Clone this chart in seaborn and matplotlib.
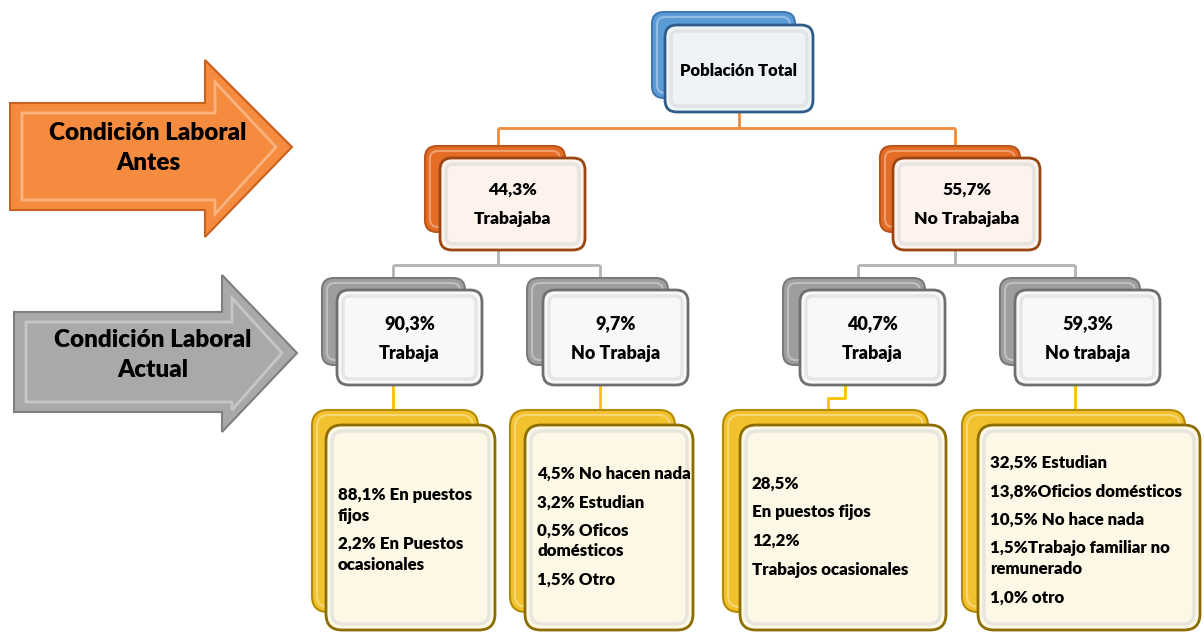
import seaborn as sns
import matplotlib.pyplot as plt
from matplotlib.patches import FancyBboxPatch, Polygon

sns.set_style("white")
plt.rcParams['font.family'] = ['Lato', 'DejaVu Sans']
plt.rcParams['text.color'] = 'black'

# data
root_label = "Población Total"
antes_pct = ["44,3%", "55,7%"]
antes_lab = ["Trabajaba", "No Trabajaba"]
actual_pct = ["90,3%", "9,7%", "40,7%", "59,3%"]
actual_lab = ["Trabaja", "No Trabaja", "Trabaja", "No trabaja"]
detalle = [
    ["88,1% En puestos\nfijos", "2,2% En Puestos\nocasionales"],
    ["4,5% No hacen nada", "3,2% Estudian", "0,5% Oficos\ndomésticos", "1,5% Otro"],
    ["28,5%", "En puestos fijos", "12,2%", "Trabajos ocasionales"],
    ["32,5% Estudian", "13,8%Oficios domésticos", "10,5% No hace nada",
     "1,5%Trabajo familiar no\nremunerado", "1,0% otro"],
]
arrow_labels = ["Condición Laboral\nAntes", "Condición Laboral\nActual"]

fig = plt.figure(figsize=(12.04, 6.32), dpi=100)
ax = fig.add_axes([0, 0, 1, 1])
ax.set_xlim(0, 1204)
ax.set_ylim(632, 0)
ax.axis("off")

W = "heavy"


def card(back, front, back_col, back_edge, front_fill, front_edge, r=12):
    bx, by, bw, bh = back
    ax.add_patch(FancyBboxPatch((bx, by), bw, bh, boxstyle=f"round,pad=0,rounding_size={r}",
                                fc=back_col, ec=back_edge, lw=1.5, zorder=2))
    # light inner bevel on back card
    ax.add_patch(FancyBboxPatch((bx + 5, by + 5), bw - 10, bh - 10,
                                boxstyle=f"round,pad=0,rounding_size={r-4}",
                                fc="none", ec="white", lw=1.5, alpha=0.35, zorder=2))
    fx, fy, fw, fh = front
    ax.add_patch(FancyBboxPatch((fx, fy), fw, fh, boxstyle=f"round,pad=0,rounding_size={r}",
                                fc=front_fill, ec=front_edge, lw=2, zorder=3))
    ax.add_patch(FancyBboxPatch((fx + 6, fy + 6), fw - 12, fh - 12,
                                boxstyle=f"round,pad=0,rounding_size={r-5}",
                                fc="none", ec="#d9d9d9", lw=2.5, alpha=0.6, zorder=3))


def link(points, color):
    xs, ys = zip(*points)
    ax.plot(xs, ys, color=color, lw=2, zorder=1, solid_capstyle="butt")


# connectors
orange_line = "#f08a3c"
gray_line = "#b3b3b3"
gold_line = "#ffc000"
link([(739, 112), (739, 128)], orange_line)
link([(498, 128), (955, 128)], orange_line)
link([(498, 128), (498, 146)], orange_line)
link([(955, 128), (955, 146)], orange_line)
for cx, kids in [(498, (393, 600)), (955, (858, 1075))]:
    link([(cx, 250), (cx, 265)], gray_line)
    link([(kids[0], 265), (kids[1], 265)], gray_line)
    link([(kids[0], 265), (kids[0], 278)], gray_line)
    link([(kids[1], 265), (kids[1], 278)], gray_line)
link([(393, 385), (393, 410)], gold_line)
link([(600, 385), (600, 410)], gold_line)
link([(845, 385), (845, 398), (828, 398), (828, 410)], gold_line)
link([(1075, 385), (1075, 410)], gold_line)

# arrows
def arrow(pts, fc, ec, inner):
    ax.add_patch(Polygon(pts, closed=True, fc=fc, ec=ec, lw=1.5, zorder=2))
    ax.add_patch(Polygon(inner, closed=True, fc="none", ec="white", lw=2, alpha=0.35, zorder=2))

arrow([(10, 103), (205, 103), (205, 60), (292, 147), (205, 237), (205, 210), (10, 210)],
      "#f58b3e", "#c8621e",
      [(22, 113), (215, 113), (215, 82), (276, 147), (215, 214), (215, 200), (22, 200)])
arrow([(14, 312), (222, 312), (222, 275), (297, 353), (222, 432), (222, 412), (14, 412)],
      "#a9a9a9", "#7f7f7f",
      [(26, 322), (232, 322), (232, 298), (282, 353), (232, 410), (232, 402), (26, 402)])
ax.text(148, 148, arrow_labels[0], ha="center", va="center", fontsize=17.5, fontweight=W,
        linespacing=1.45, zorder=4)
ax.text(153, 355, arrow_labels[1], ha="center", va="center", fontsize=17.5, fontweight=W,
        linespacing=1.45, zorder=4)

# root
card((652, 12, 143, 86), (665, 25, 148, 87), "#5b9bd5", "#3f78b0", "#eef3f8", "#2e5c87")
ax.text(739, 71, root_label, ha="center", va="center", fontsize=12, fontweight=W, zorder=4)

# level 1
lvl1 = [((425, 146, 140, 86), (440, 158, 145, 92)), ((880, 146, 140, 86), (893, 158, 147, 92))]
for (b, f), p, l in zip(lvl1, antes_pct, antes_lab):
    card(b, f, "#e46c24", "#b9541a", "#fdf2ec", "#9a4512")
    cx = f[0] + f[2] / 2
    ax.text(cx, 190, p, ha="center", va="center", fontsize=12.5, fontweight=W, zorder=4)
    ax.text(cx, 219, l, ha="center", va="center", fontsize=12.5, fontweight=W, zorder=4)

# level 2
lvl2 = [((322, 278, 143, 87), (337, 290, 145, 95)), ((527, 278, 141, 87), (543, 290, 145, 95)),
        ((783, 278, 142, 87), (800, 290, 145, 95)), ((1000, 278, 140, 87), (1015, 290, 145, 95))]
for (b, f), p, l in zip(lvl2, actual_pct, actual_lab):
    card(b, f, "#9e9e9e", "#7a7a7a", "#f8f8f8", "#6f6f6f")
    cx = f[0] + f[2] / 2
    ax.text(cx, 324, p, ha="center", va="center", fontsize=13, fontweight=W, zorder=4)
    ax.text(cx, 353, l, ha="center", va="center", fontsize=13, fontweight=W, zorder=4)

# level 3
lvl3 = [((312, 410, 166, 202), (326, 425, 169, 205)), ((510, 410, 165, 202), (525, 425, 168, 205)),
        ((723, 410, 205, 202), (740, 425, 206, 205)), ((962, 410, 223, 202), (978, 425, 222, 205))]
start_y = [495, 474, 484, 463]
for (b, f), items, y in zip(lvl3, detalle, start_y):
    card(b, f, "#f2c12e", "#b38a00", "#fdf8e6", "#8c6d00", r=16)
    x = f[0] + 12
    for it in items:
        for line in it.split("\n"):
            ax.text(x, y, line, ha="left", va="center", fontsize=12.2, fontweight=W, zorder=4)
            y += 20.5
        y += 8

fig.savefig("out.png", dpi=100)
